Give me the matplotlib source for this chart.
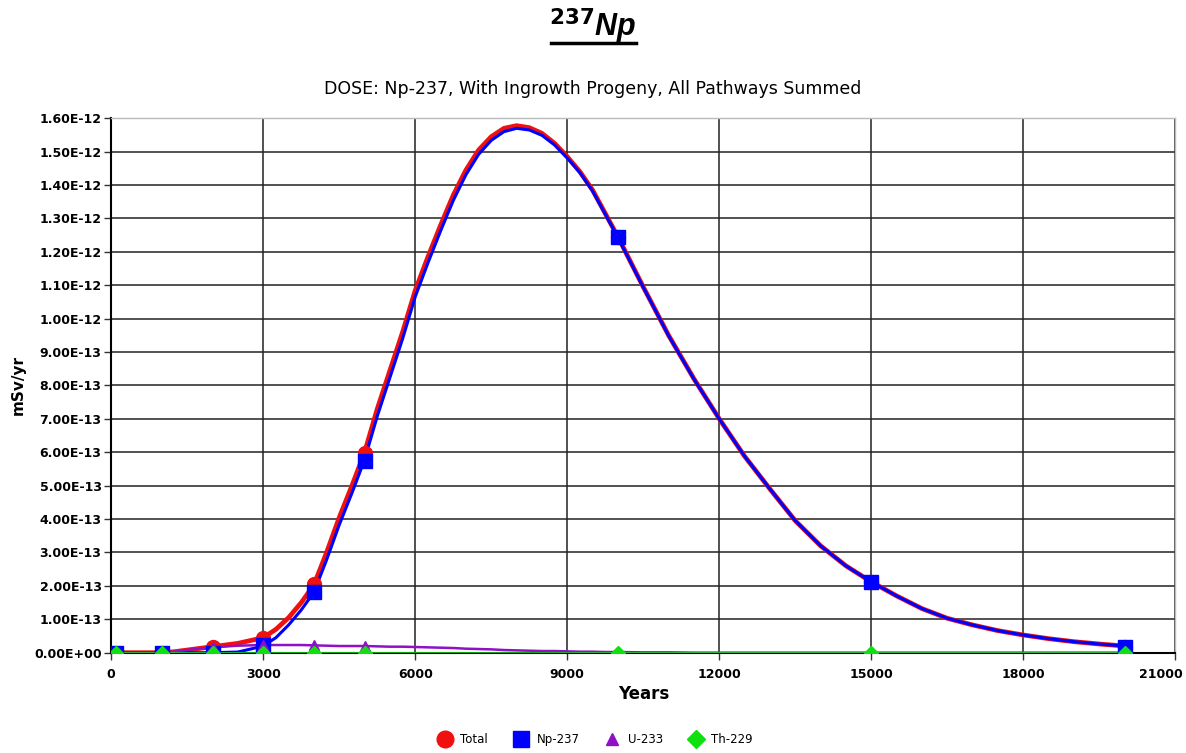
import matplotlib
matplotlib.use("Agg")
import matplotlib.pyplot as plt
from matplotlib.lines import Line2D
from matplotlib.ticker import FuncFormatter, MultipleLocator

# ---- data ----
years = [0, 500, 1000, 1250, 1500, 2000, 2500, 3000, 3250, 3500, 3750, 4000,
         4250, 4500, 4750, 5000, 5250, 5500, 5750, 6000, 6250, 6500, 6750,
         7000, 7250, 7500, 7750, 8000, 8250, 8500, 8750, 9000, 9250, 9500,
         9750, 10000, 10500, 11000, 11500, 12000, 12500, 13000, 13500, 14000,
         14500, 15000, 15500, 16000, 16500, 17000, 17500, 18000, 18500, 19000,
         19500, 20000]

total = [0, 0, 0, 3e-15, 8e-15, 1.8e-14, 2.8e-14, 4.5e-14, 7.0e-14, 1.05e-13,
         1.5e-13, 2.03e-13, 3.0e-13, 4.05e-13, 5.0e-13, 6.0e-13, 7.3e-13,
         8.45e-13, 9.6e-13, 1.085e-12, 1.185e-12, 1.28e-12, 1.37e-12,
         1.445e-12, 1.505e-12, 1.545e-12, 1.57e-12, 1.578e-12, 1.572e-12,
         1.555e-12, 1.525e-12, 1.485e-12, 1.44e-12, 1.385e-12, 1.315e-12,
         1.245e-12, 1.095e-12, 9.5e-13, 8.2e-13, 7.0e-13, 5.88e-13, 4.9e-13,
         3.95e-13, 3.2e-13, 2.6e-13, 2.12e-13, 1.7e-13, 1.32e-13, 1.03e-13,
         8.3e-14, 6.6e-14, 5.3e-14, 4.2e-14, 3.3e-14, 2.6e-14, 2.0e-14]

np237 = [0, 0, 0, 0, 0, 0, 2e-15, 2.0e-14, 4.5e-14, 8.3e-14, 1.28e-13,
         1.81e-13, 2.78e-13, 3.83e-13, 4.78e-13, 5.78e-13, 7.08e-13, 8.24e-13,
         9.4e-13, 1.066e-12, 1.167e-12, 1.263e-12, 1.354e-12, 1.431e-12,
         1.492e-12, 1.534e-12, 1.56e-12, 1.570e-12, 1.565e-12, 1.549e-12,
         1.52e-12, 1.481e-12, 1.437e-12, 1.382e-12, 1.313e-12, 1.243e-12,
         1.094e-12, 9.49e-13, 8.19e-13, 7.0e-13, 5.88e-13, 4.9e-13, 3.95e-13,
         3.2e-13, 2.6e-13, 2.12e-13, 1.7e-13, 1.32e-13, 1.03e-13, 8.3e-14,
         6.6e-14, 5.3e-14, 4.2e-14, 3.3e-14, 2.6e-14, 2.0e-14]

u233 = [0, 0, 0, 3e-15, 8e-15, 1.6e-14, 2.1e-14, 2.3e-14, 2.3e-14, 2.3e-14,
        2.3e-14, 2.2e-14, 2.1e-14, 2.0e-14, 2.0e-14, 2.0e-14, 1.9e-14,
        1.8e-14, 1.8e-14, 1.7e-14, 1.6e-14, 1.5e-14, 1.4e-14, 1.2e-14,
        1.1e-14, 1.0e-14, 8e-15, 7e-15, 6e-15, 5e-15, 5e-15, 4e-15, 3e-15,
        3e-15, 2e-15, 2e-15, 1e-15, 1e-15, 0, 0, 0, 0, 0, 0, 0, 0, 0, 0, 0,
        0, 0, 0, 0, 0, 0, 0]

th229 = [0] * len(years)

marker_years = [100, 1000, 2000, 3000, 4000, 5000, 10000, 15000, 20000]
total_m = [0, 0, 1.8e-14, 4.5e-14, 2.05e-13, 5.98e-13, 1.245e-12, 2.12e-13, 1.8e-14]
np237_m = [0, 0, 0, 2.3e-14, 1.82e-13, 5.75e-13, 1.245e-12, 2.12e-13, 1.8e-14]
u233_m = [0, 0, 1.6e-14, 2.3e-14, 2.2e-14, 2.0e-14, 2e-15, 0, 0]
th229_m = [0, 0, 0, 0, 0, 0, 0, 0, 0]

series_names = ["Total", "Np-237", "U-233", "Th-229"]
colors = ["#f01010", "#0000ff", "#9010c8", "#10e010"]
markers = ["o", "s", "^", "D"]

X_MAX = 21000

# ---- figure ----
fig = plt.figure(figsize=(11.86, 7.53), dpi=100)
ax = fig.add_axes([0.0938, 0.1332, 0.8972, 0.7097])

lines_data = [total, np237, u233, th229]
mark_data = [total_m, np237_m, u233_m, th229_m]
lws = [3.4, 2.2, 1.8, 1.8]
msz = [10, 10, 7.5, 7.5]
for i in range(4):
    ax.plot(years, lines_data[i], color=colors[i], lw=lws[i], zorder=3 + i * 0.1,
            solid_capstyle="round", solid_joinstyle="round")
for i in range(4):
    ax.plot(marker_years, mark_data[i], ls="none", marker=markers[i],
            color=colors[i], ms=msz[i], mec=colors[i], zorder=4 + i * 0.1)

ax.set_xlim(0, X_MAX)
ax.set_ylim(0, 1.6e-12)
ax.xaxis.set_major_locator(MultipleLocator(3000))
ax.xaxis.set_major_formatter(
    FuncFormatter(lambda v, p: "" if v >= X_MAX else "{:d}".format(int(round(v)))))
ax.yaxis.set_major_locator(MultipleLocator(1e-13))
ax.yaxis.set_major_formatter(FuncFormatter(lambda v, p: "{:.2E}".format(v)))
ax.grid(True, color="#222222", lw=1.1)
ax.set_axisbelow(True)
ax.tick_params(axis="both", labelsize=9, length=5, width=1, color="#333333",
               direction="out", pad=2)
ax.tick_params(axis="x", pad=6)
for lab in ax.get_xticklabels() + ax.get_yticklabels():
    lab.set_fontweight("bold")
for s in ["left", "bottom"]:
    ax.spines[s].set_color("black")
    ax.spines[s].set_linewidth(1.5)
for s in ["top", "right"]:
    ax.spines[s].set_color("#bbbbbb")
    ax.spines[s].set_linewidth(1.0)

# last x label, kept inside the figure
ax.annotate("{:d}".format(X_MAX), xy=(X_MAX, 0), xycoords="data",
            xytext=(5, -11), textcoords="offset points", ha="right", va="top",
            fontsize=9, fontweight="bold", annotation_clip=False)

ax.set_xlabel("Years", fontsize=12, fontweight="bold", labelpad=3)
ax.set_ylabel("mSv/yr", fontsize=11, fontweight="bold", labelpad=6)

# titles
fig.text(0.5, 0.965, r"$^{\mathbf{237}}$Np", ha="center", va="center",
         fontsize=22, fontweight="bold", style="italic",
         family="Liberation Sans")
fig.add_artist(Line2D([0.465, 0.536], [0.943, 0.943], color="black", lw=2.5))
fig.text(0.5, 0.882, "DOSE: Np-237, With Ingrowth Progeny, All Pathways Summed",
         ha="center", va="center", fontsize=12.5, family="DejaVu Sans")

# legend
handles = [Line2D([], [], ls="none", marker=markers[i], color=colors[i],
                  ms=[12, 11, 9, 9][i]) for i in range(4)]
fig.legend(handles, series_names, loc="center", bbox_to_anchor=(0.5, 0.018),
           ncol=4, frameon=False, fontsize=8.5, handletextpad=0.3,
           columnspacing=1.8)

fig.savefig("out.png", dpi=100)
